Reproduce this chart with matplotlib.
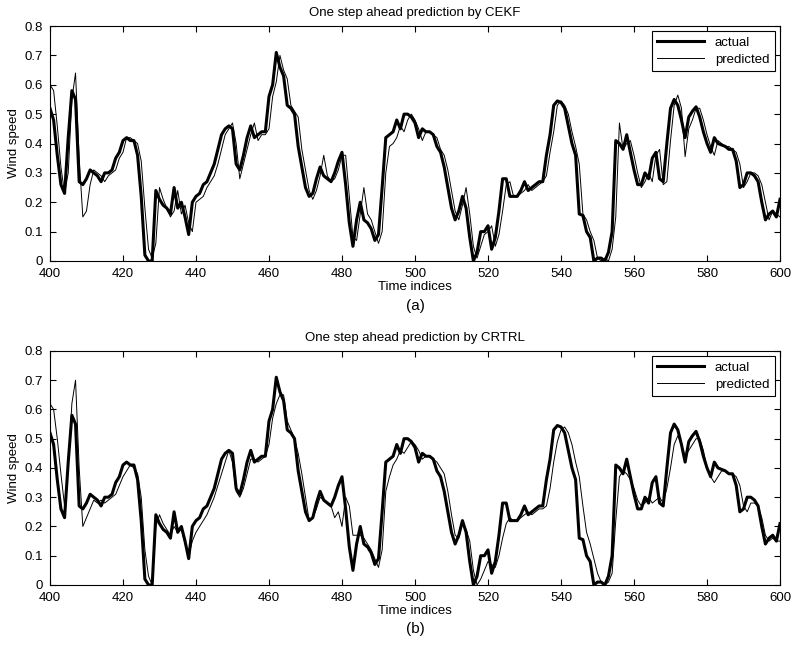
import matplotlib
matplotlib.use('Agg')
import matplotlib.pyplot as plt

plt.rcParams['font.family'] = ['Liberation Sans', 'DejaVu Sans']

# time indices 400..600
t = list(range(400, 601))

# actual wind speed (same series in both panels)
actual = [
    0.52, 0.48, 0.36, 0.26, 0.23, 0.42, 0.58, 0.55, 0.27, 0.26,
    0.28, 0.31, 0.30, 0.29, 0.27, 0.30, 0.30, 0.31, 0.35, 0.37,
    0.41, 0.42, 0.41, 0.41, 0.36, 0.22, 0.02, 0.00, 0.00, 0.24,
    0.21, 0.19, 0.18, 0.16, 0.25, 0.18, 0.20, 0.15, 0.09, 0.20,
    0.22, 0.23, 0.26, 0.27, 0.30, 0.33, 0.38, 0.43, 0.45, 0.46,
    0.45, 0.33, 0.31, 0.36, 0.42, 0.46, 0.42, 0.43, 0.44, 0.44,
    0.56, 0.60, 0.71, 0.66, 0.63, 0.53, 0.52, 0.50, 0.39, 0.32,
    0.25, 0.22, 0.23, 0.28, 0.32, 0.29, 0.28, 0.27, 0.30, 0.34,
    0.37, 0.26, 0.13, 0.05, 0.14, 0.20, 0.14, 0.13, 0.11, 0.07,
    0.09, 0.25, 0.42, 0.43, 0.44, 0.48, 0.45, 0.50, 0.50, 0.49,
    0.47, 0.42, 0.45, 0.44, 0.44, 0.43, 0.39, 0.37, 0.32, 0.25,
    0.18, 0.14, 0.17, 0.22, 0.18, 0.08, 0.00, 0.03, 0.10, 0.10,
    0.12, 0.04, 0.08, 0.17, 0.28, 0.28, 0.22, 0.22, 0.22, 0.24,
    0.27, 0.24, 0.25, 0.26, 0.27, 0.27, 0.36, 0.43, 0.53, 0.545,
    0.54, 0.52, 0.46, 0.40, 0.36, 0.16, 0.155, 0.10, 0.08, 0.00,
    0.01, 0.01, 0.00, 0.03, 0.10, 0.41, 0.40, 0.38, 0.43, 0.37,
    0.31, 0.26, 0.26, 0.30, 0.28, 0.35, 0.37, 0.28, 0.27, 0.40,
    0.52, 0.55, 0.53, 0.48, 0.42, 0.49, 0.51, 0.525, 0.49, 0.44,
    0.40, 0.37, 0.42, 0.40, 0.395, 0.39, 0.38, 0.38, 0.34, 0.25,
    0.26, 0.30, 0.30, 0.29, 0.27, 0.20, 0.14, 0.16, 0.17, 0.15,
    0.21,
]

# one step ahead prediction by CEKF
pred_cekf = [
    0.60, 0.58, 0.46, 0.32, 0.23, 0.30, 0.55, 0.64, 0.35, 0.15,
    0.17, 0.26, 0.31, 0.30, 0.29, 0.27, 0.29, 0.30, 0.31, 0.35,
    0.37, 0.42, 0.42, 0.41, 0.40, 0.34, 0.18, 0.04, 0.01, 0.06,
    0.25, 0.21, 0.18, 0.15, 0.17, 0.24, 0.16, 0.19, 0.13, 0.10,
    0.20, 0.21, 0.22, 0.25, 0.27, 0.29, 0.33, 0.38, 0.43, 0.45,
    0.47, 0.40, 0.28, 0.33, 0.38, 0.43, 0.47, 0.41, 0.43, 0.43,
    0.45, 0.56, 0.61, 0.70, 0.65, 0.62, 0.53, 0.51, 0.49, 0.38,
    0.31, 0.24, 0.21, 0.24, 0.29, 0.36, 0.29, 0.27, 0.28, 0.31,
    0.36, 0.36, 0.22, 0.08, 0.07, 0.16, 0.25, 0.16, 0.14, 0.10,
    0.06, 0.10, 0.30, 0.39, 0.40, 0.42, 0.46, 0.44, 0.48, 0.50,
    0.48, 0.45, 0.41, 0.44, 0.44, 0.43, 0.42, 0.38, 0.36, 0.31,
    0.24, 0.17, 0.14, 0.19, 0.25, 0.16, 0.05, 0.01, 0.05, 0.09,
    0.10, 0.12, 0.05, 0.09, 0.17, 0.26, 0.27, 0.22, 0.22, 0.23,
    0.24, 0.26, 0.24, 0.25, 0.26, 0.27, 0.29, 0.37, 0.44, 0.53,
    0.545, 0.53, 0.50, 0.44, 0.39, 0.33, 0.16, 0.14, 0.10, 0.07,
    0.01, 0.00, 0.01, 0.00, 0.04, 0.15, 0.47, 0.38, 0.40, 0.41,
    0.36, 0.30, 0.25, 0.27, 0.30, 0.27, 0.36, 0.38, 0.26, 0.27,
    0.41, 0.53, 0.565, 0.52, 0.355, 0.45, 0.48, 0.52, 0.52, 0.48,
    0.43, 0.39, 0.36, 0.41, 0.40, 0.39, 0.39, 0.38, 0.37, 0.33,
    0.25, 0.27, 0.30, 0.30, 0.29, 0.26, 0.20, 0.14, 0.17, 0.16,
    0.15,
]

# one step ahead prediction by CRTRL
pred_crtrl = [
    0.62, 0.60, 0.50, 0.38, 0.27, 0.40, 0.62, 0.70, 0.40, 0.20,
    0.23, 0.26, 0.29, 0.28, 0.29, 0.28, 0.29, 0.30, 0.31, 0.34,
    0.37, 0.39, 0.41, 0.40, 0.38, 0.30, 0.12, 0.03, 0.00, 0.20,
    0.24, 0.21, 0.19, 0.17, 0.20, 0.18, 0.19, 0.14, 0.10, 0.15,
    0.18, 0.20, 0.22, 0.24, 0.27, 0.30, 0.34, 0.38, 0.42, 0.46,
    0.42, 0.32, 0.30, 0.33, 0.38, 0.43, 0.43, 0.42, 0.43, 0.44,
    0.48, 0.57, 0.62, 0.65, 0.65, 0.56, 0.53, 0.50, 0.45, 0.38,
    0.30, 0.22, 0.23, 0.26, 0.30, 0.29, 0.28, 0.27, 0.23, 0.25,
    0.20, 0.30, 0.27, 0.17, 0.17, 0.17, 0.16, 0.14, 0.12, 0.09,
    0.06, 0.12, 0.32, 0.37, 0.41, 0.43, 0.46, 0.45, 0.47, 0.49,
    0.48, 0.46, 0.43, 0.44, 0.44, 0.43, 0.42, 0.40, 0.38, 0.32,
    0.24, 0.17, 0.16, 0.21, 0.19, 0.15, 0.05, 0.00, 0.02, 0.05,
    0.08, 0.07, 0.06, 0.10, 0.16, 0.21, 0.23, 0.22, 0.22, 0.23,
    0.24, 0.25, 0.24, 0.25, 0.26, 0.26, 0.27, 0.33, 0.42, 0.49,
    0.53, 0.54, 0.52, 0.48, 0.42, 0.37, 0.27, 0.18, 0.14, 0.09,
    0.04, 0.01, 0.00, 0.01, 0.04, 0.22, 0.37, 0.39, 0.38, 0.36,
    0.33, 0.29, 0.27, 0.28, 0.30, 0.28, 0.29, 0.30, 0.28, 0.33,
    0.40, 0.48, 0.51, 0.48, 0.44, 0.46, 0.48, 0.50, 0.50, 0.46,
    0.40, 0.37, 0.35, 0.37, 0.39, 0.39, 0.38, 0.38, 0.37, 0.34,
    0.27, 0.25, 0.28, 0.28, 0.27, 0.23, 0.17, 0.15, 0.16, 0.15,
    0.15,
]

fig = plt.figure(figsize=(7.97, 6.52), dpi=100)
ax1 = fig.add_axes([0.0627, 0.5997, 0.916, 0.3604])
ax2 = fig.add_axes([0.0627, 0.1028, 0.916, 0.359])

panels = [(ax1, pred_cekf, 'One step ahead prediction by CEKF', '(a)'),
          (ax2, pred_crtrl, 'One step ahead prediction by CRTRL', '(b)')]

for ax, pred, title, tag in panels:
    ax.plot(t, actual, color='black', linewidth=2.2, label='actual')
    ax.plot(t, pred, color='black', linewidth=0.7, label='predicted')
    ax.set_xlim(400, 600)
    ax.set_ylim(0, 0.8)
    ax.set_xticks(range(400, 601, 20))
    ax.set_yticks([i / 10 for i in range(9)])
    ax.set_yticklabels(['0', '0.1', '0.2', '0.3', '0.4', '0.5', '0.6', '0.7', '0.8'])
    ax.tick_params(direction='in', top=True, right=True, labelsize=9.5,
                   length=4, width=0.8)
    ax.tick_params(axis='x', pad=5)
    ax.tick_params(axis='y', pad=5)
    for s in ax.spines.values():
        s.set_linewidth(0.8)
    ax.set_title(title, fontsize=9.5, pad=7)
    ax.set_xlabel('Time indices', fontsize=9.5, labelpad=1)
    ax.set_ylabel('Wind speed', fontsize=9.5, labelpad=3)
    ax.text(0.5, -0.16, tag, transform=ax.transAxes, ha='center', va='top',
            fontsize=11)
    leg = ax.legend(loc='upper right', fontsize=9.5, handlelength=3.6,
                    fancybox=False, edgecolor='black', framealpha=1,
                    borderaxespad=0.4, labelspacing=0.35, borderpad=0.4)
    leg.get_frame().set_linewidth(0.8)

fig.savefig('out.png', dpi=100)
